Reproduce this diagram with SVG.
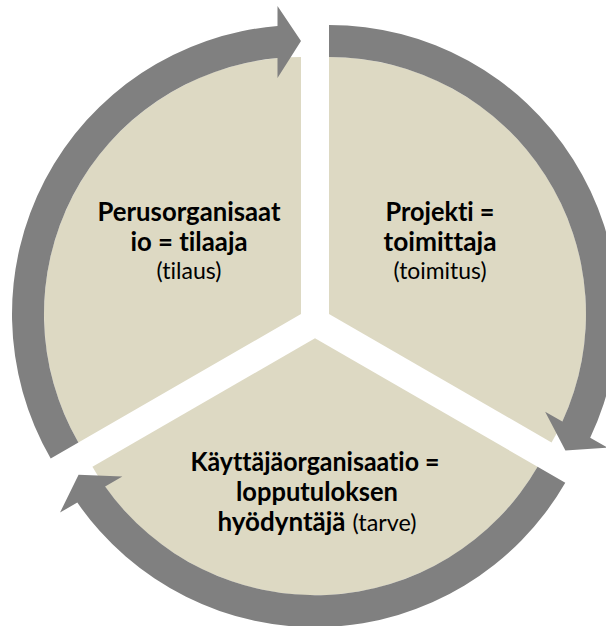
<svg xmlns="http://www.w3.org/2000/svg" width="606" height="626" viewBox="0 0 606 626">
<style>
.sector{fill:#DDD9C3;}
.arrow{fill:#808080;}
.b{font-family:"Lato","Liberation Sans",sans-serif;font-weight:bold;font-size:26px;fill:#000;text-anchor:middle;font-variant-ligatures:none;}
.r{font-family:"Lato","Liberation Sans",sans-serif;font-weight:normal;font-size:23px;fill:#000;text-anchor:middle;font-variant-ligatures:none;}
</style>
<rect width="606" height="626" fill="#FFFFFF"/>
<g id="node-perusorganisaatio">
<path class="sector" d="M301,314 L78.4,442.5 A257,257 0 0 1 301,57 Z"/>
<text class="b" x="189" y="221" textLength="183" lengthAdjust="spacingAndGlyphs">Perusorganisaat</text>
<text class="b" x="189" y="251" textLength="117" lengthAdjust="spacingAndGlyphs">io = tilaaja</text>
<text class="r" x="189" y="279" textLength="65" lengthAdjust="spacingAndGlyphs">(tilaus)</text>
</g>
<g id="node-projekti">
<path class="sector" d="M329,314 L329,57 A257,257 0 0 1 551.56,442.5 Z"/>
<text class="b" x="440" y="221" textLength="109" lengthAdjust="spacingAndGlyphs">Projekti =</text>
<text class="b" x="440" y="251" textLength="113" lengthAdjust="spacingAndGlyphs">toimittaja</text>
<text class="r" x="440" y="279" textLength="93" lengthAdjust="spacingAndGlyphs">(toimitus)</text>
</g>
<g id="node-kayttajaorganisaatio">
<path class="sector" d="M315,338.2 L537.56,466.7 A257,257 0 0 1 92.44,466.7 Z"/>
<text class="b" x="315" y="471" textLength="249" lengthAdjust="spacingAndGlyphs">Käyttäjäorganisaatio =</text>
<text class="b" x="317" y="501" textLength="162" lengthAdjust="spacingAndGlyphs">lopputuloksen</text>
<text class="b" x="281.5" y="531" textLength="128" lengthAdjust="spacingAndGlyphs">hyödyntäjä</text>
<text class="r" x="384.5" y="531" textLength="64" lengthAdjust="spacingAndGlyphs">(tarve)</text>
</g>
<g id="connectors">
<path class="arrow" d="M50.7,458.5 A289,289 0 0 1 277.5,26 L277.5,6 L301,41 L277.5,78 L277.5,58.1 A257,257 0 0 0 78.4,442.5 Z"/>
<path class="arrow" d="M329,25 A289,289 0 0 1 590.19,437.67 L607.48,447.65 L565.42,450.5 L545.13,411.65 L562.36,421.6 A257,257 0 0 0 329,57 Z"/>
<path class="arrow" d="M565.28,482.7 A289,289 0 0 1 77.31,502.57 L60.02,512.55 L78.58,474.7 L122.37,476.55 L105.14,486.5 A257,257 0 0 0 537.56,466.7 Z"/>
</g>
</svg>
